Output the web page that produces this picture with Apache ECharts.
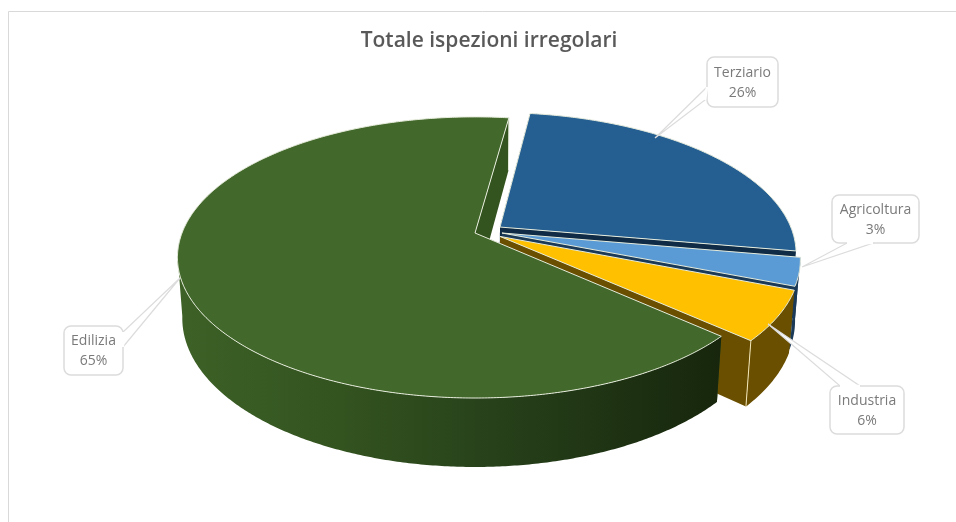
<!DOCTYPE html>
<html><head><meta charset="utf-8">
<style>html,body{margin:0;padding:0;background:#fff}#c{width:956px;height:522px}</style>
<script src="https://cdn.jsdelivr.net/npm/echarts@6/dist/echarts.min.js"></script>
</head><body><div id="c"></div>
<script>
const titleText = 'Totale ispezioni irregolari';
const categories = ['Terziario', 'Agricoltura', 'Industria', 'Edilizia'];
const values = [25.6, 3.2, 5.71, 65.49];

// layout and styling
const firstAngle = 7.8;
const cam = {x0: 475, y0: 233, a: 293, b: 136.3, d: 60.7, k: 0.174, m: 0.016};
const explode = [[0.086, -0.044], [0.092, 0], [0.085, 0.025], [0, 0]];
const topColors = ['#255e91', '#5b9bd5', '#ffc000', '#43682b'];
const wallColors = ['#0f2b45', '#1b3a57', '#6a4f00', null];
const edgeColor = '#e6ecdc';
const callouts = [
  {box: [707, 57, 71, 50], tip: [655, 138], base: [[707, 87], [705, 100]]},
  {box: [832, 195, 87, 48], tip: [802, 267], base: [[847, 243], [873, 243]]},
  {box: [830, 386, 74, 48], tip: [768, 324], base: [[840, 386], [860, 386]]},
  {box: [64, 326, 59, 49], tip: [180, 278], base: [[123, 332], [123, 347]]}
];

function proj(u, v, z) {
  const w = 1 - cam.k * v + cam.m * z;
  return [cam.x0 + cam.a * u / w, cam.y0 + (cam.b * v + cam.d * z) / w];
}
const total = values.reduce((s, v) => s + v, 0);
const spans = [];
values.reduce((start, v) => { const e = start + v / total * 360; spans.push([start, e]); return e; }, firstAngle);

function rim(i, deg, z) {
  const r = deg * Math.PI / 180;
  return proj(Math.sin(r) + explode[i][0], -Math.cos(r) + explode[i][1], z);
}
function arcAngles(a0, a1) {
  const out = [];
  const n = Math.max(2, Math.ceil((a1 - a0) / 0.5));
  for (let j = 0; j <= n; j++) out.push(a0 + (a1 - a0) * j / n);
  return out;
}
function wallFill(i) {
  if (wallColors[i]) return wallColors[i];
  return new echarts.graphic.LinearGradient(0, 0, 1, 0, [
    {offset: 0, color: '#3d6127'}, {offset: 0.3, color: '#33531f'},
    {offset: 0.6, color: '#26401a'}, {offset: 1, color: '#17260c'}
  ]);
}
function renderSlice(params, api) {
  const i = params.dataIndex;
  const [a0, a1] = spans[i];
  const ex = explode[i];
  const apexT = proj(ex[0], ex[1], 0), apexB = proj(ex[0], ex[1], 1);
  const angles = arcAngles(a0, a1);
  const children = [];
  const quad = (d, fill) => ({type: 'polygon', shape: {points: [apexT, rim(i, d, 0), rim(i, d, 1), apexB]},
    style: {fill: fill, stroke: null}});
  const startFill = i === 3 ? '#34541f' : wallColors[i];
  children.push(quad(a1, startFill));
  children.push(quad(a0, startFill));
  const front = angles.filter(d => -Math.cos(d * Math.PI / 180) + ex[1] >= cam.k - 0.02);
  if (front.length > 1) {
    const pts = front.map(d => rim(i, d, 0)).concat(front.slice().reverse().map(d => rim(i, d, 1)));
    children.push({type: 'polygon', shape: {points: pts}, style: {fill: wallFill(i), stroke: null}});
    if (i === 2) {
      children.push({type: 'line', shape: {x1: rim(i, a1, 0)[0], y1: rim(i, a1, 0)[1], x2: rim(i, a1, 1)[0], y2: rim(i, a1, 1)[1]},
        style: {stroke: '#f3e6b8', lineWidth: 1}});
    }
  }
  if (i === 3) {
    children.push({type: 'line', shape: {x1: rim(i, a1, 0)[0], y1: rim(i, a1, 0)[1], x2: rim(i, a1, 1)[0], y2: rim(i, a1, 1)[1]},
      style: {stroke: edgeColor, lineWidth: 1}});
  }
  const face = [apexT].concat(angles.map(d => rim(i, d, 0)));
  children.push({type: 'polygon', shape: {points: face},
    style: {fill: topColors[i], stroke: edgeColor, lineWidth: 1, lineJoin: 'round'}});
  return {type: 'group', children: children};
}
function renderCallout(params, api) {
  const i = params.dataIndex;
  const c = callouts[i];
  const [x, y, w, h] = c.box;
  const pct = Math.round(api.value(0) / total * 100) + '%';
  const line = '#dcdcdc';
  return {type: 'group', children: [
    {type: 'polygon', shape: {points: [c.tip, c.base[0], c.base[1]]}, style: {fill: '#fff', stroke: line, lineWidth: 1.2}},
    {type: 'rect', shape: {x, y, width: w, height: h, r: 7}, style: {fill: '#fff', stroke: line, lineWidth: 1.5}},
    {type: 'line', shape: {x1: c.base[0][0], y1: c.base[0][1], x2: c.base[1][0], y2: c.base[1][1]}, style: {stroke: '#fff', lineWidth: 2.5}},
    {type: 'text', style: {x: x + w / 2, y: y + h / 2 - 9, text: categories[i], fill: '#7a7a7a', align: 'center', verticalAlign: 'middle',
      font: '14px "Open Sans"'}},
    {type: 'text', style: {x: x + w / 2, y: y + h / 2 + 11, text: pct, fill: '#7a7a7a', align: 'center', verticalAlign: 'middle',
      font: '14px "Open Sans"'}}
  ]};
}
const chart = echarts.init(document.getElementById('c'), null, {renderer: 'canvas'});
chart.setOption({
  animation: false,
  backgroundColor: '#fff',
  title: {text: titleText, left: 484, top: 26, textAlign: 'center',
    textStyle: {fontFamily: 'Open Sans', fontWeight: 600, fontSize: 21, color: '#595959'}},
  graphic: [
    {type: 'line', shape: {x1: 8.5, y1: 11.5, x2: 956, y2: 11.5}, style: {stroke: '#d9d9d9', lineWidth: 1}, silent: true},
    {type: 'line', shape: {x1: 8.5, y1: 11.5, x2: 8.5, y2: 522}, style: {stroke: '#d9d9d9', lineWidth: 1}, silent: true}
  ],
  series: [
    {type: 'custom', coordinateSystem: 'none', renderItem: renderSlice, z: 2, silent: true,
      data: categories.map((n, i) => ({name: n, value: [values[i]]}))},
    {type: 'custom', coordinateSystem: 'none', renderItem: renderCallout, z: 3, silent: true,
      data: categories.map((n, i) => ({name: n, value: [values[i]]}))}
  ]
});
</script></body></html>
